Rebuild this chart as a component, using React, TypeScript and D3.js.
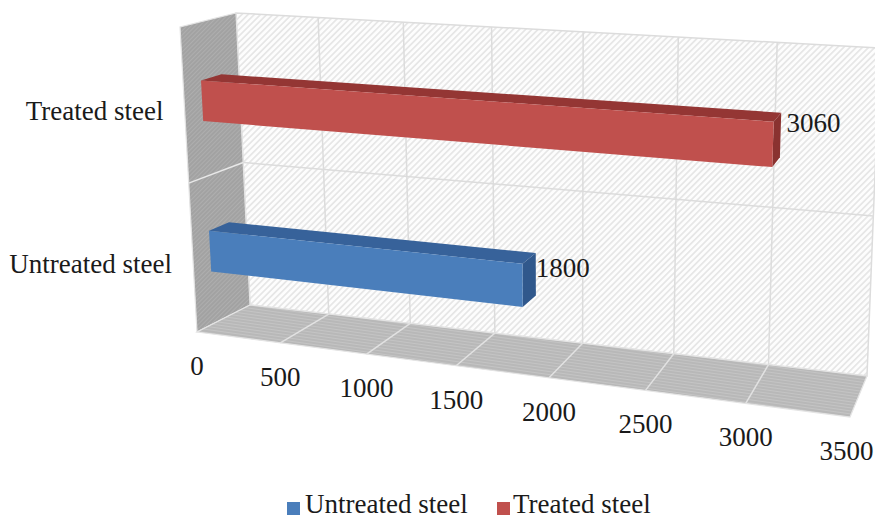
import React from "react";
import * as d3 from "d3";

const categories = ["Untreated steel", "Treated steel"];
const seriesValues = [1800, 3060];
const seriesColors = ["#4a7ebb", "#c0504d"];
const topColors = ["#37629a", "#943634"];
const sideColors = ["#30588c", "#8a3230"];
const valueTicks = [0, 500, 1000, 1500, 2000, 2500, 3000, 3500];
const dataLabelOffsets = [[0, 3], [6, -3]];

type Pt = [number, number];
// Projected corners of the 3D box: [front/back][bottom/top][left/right]
const C = {
  fbl: [197, 332] as Pt, fbr: [850, 417] as Pt, ftl: [180, 27] as Pt, ftr: [866, 70] as Pt,
  bbl: [250, 305] as Pt, bbr: [867, 376] as Pt, btl: [236, 13] as Pt, btr: [880, 48] as Pt,
};
const uScale = d3.scaleLinear().domain([0, 3500]).range([0, 1]);
const K = 1.14;
const persp = (u: number) => u / (u + K * (1 - u));
const lerp = (a: Pt, b: Pt, t: number): Pt => [a[0] + (b[0] - a[0]) * t, a[1] + (b[1] - a[1]) * t];
// value → along x; v: 0 front..1 back; w: 0 floor..1 top
function P(value: number, v: number, w: number): Pt {
  const u = persp(uScale(value));
  const fb = lerp(C.fbl, C.fbr, u), ft = lerp(C.ftl, C.ftr, u);
  const bb = lerp(C.bbl, C.bbr, u), bt = lerp(C.btl, C.btr, u);
  return lerp(lerp(fb, ft, w), lerp(bb, bt, w), v);
}
const poly = d3.line<Pt>().x((d) => d[0]).y((d) => d[1]);
const closed = (pts: Pt[]) => poly(pts)! + "Z";

const band = d3.scaleBand<string>().domain(categories).range([-0.01, 0.99]).paddingInner(0.73).paddingOuter(0.365);
const V0 = 0.32, V1 = 0.69, MID = 0.488;
const FONT = "'Liberation Serif','Times New Roman',serif";
const GRID = "#dcdcdc";
const FS = 27;

export default function App() {
  const maxV = valueTicks[valueTicks.length - 1];
  return (
    <svg width={875} height={519} viewBox="0 0 875 519" style={{ position: "absolute", left: 0, top: 0, background: "#fff" }} fontFamily={FONT} fill="#1a1a1a">
      <defs>
        <pattern id="wallHatch" width="4.4" height="4.4" patternUnits="userSpaceOnUse" patternTransform="rotate(45)">
          <rect width="4.4" height="4.4" fill="#fdfdfd" />
          <rect width="1.7" height="4.4" fill="#e6e6e6" />
        </pattern>
        <pattern id="sideHatch" width="3" height="3" patternUnits="userSpaceOnUse" patternTransform="rotate(45)">
          <rect width="3" height="3" fill="#a2a2a2" />
          <rect width="1" height="3" fill="#aeaeae" />
        </pattern>
        <pattern id="floorHatch" width="3" height="3" patternUnits="userSpaceOnUse" patternTransform="rotate(8)">
          <rect width="3" height="3" fill="#b8b8b8" />
          <rect width="3" height="1" fill="#c4c4c4" />
        </pattern>
      </defs>

      {/* walls */}
      <path d={closed([P(0, 1, 0), P(maxV, 1, 0), P(maxV, 1, 1), P(0, 1, 1)])} fill="url(#wallHatch)" stroke={GRID} strokeWidth={1.5} />
      <path d={closed([P(0, 0, 0), P(0, 1, 0), P(0, 1, 1), P(0, 0, 1)])} fill="url(#sideHatch)" stroke="#e4e4e4" strokeWidth={1.2} />
      <path d={closed([P(0, 0, 0), P(maxV, 0, 0), P(maxV, 1, 0), P(0, 1, 0)])} fill="url(#floorHatch)" stroke="#e4e4e4" strokeWidth={1.2} />

      {/* gridlines */}
      {valueTicks.slice(1, -1).map((t) => (
        <g key={t} fill="none">
          <path d={poly([P(t, 1, 0), P(t, 1, 1)])!} stroke={GRID} strokeWidth={1.5} />
          <path d={poly([P(t, 0, 0), P(t, 1, 0)])!} stroke="#e2e2e2" strokeWidth={1.5} />
        </g>
      ))}
      <path d={poly([P(0, 1, MID), P(maxV, 1, MID)])!} fill="none" stroke={GRID} strokeWidth={1.5} />
      <path d={poly([P(0, 0, MID), P(0, 1, MID)])!} fill="none" stroke="#e8e8e8" strokeWidth={1.5} />

      {/* bars */}
      {categories.map((c, i) => {
        const val = seriesValues[i];
        const w0 = band(c)!, w1 = w0 + band.bandwidth();
        const end = P(val, V1, (w0 + w1) / 2);
        return (
          <g key={c}>
            <path d={closed([P(0, V0, w1), P(val, V0, w1), P(val, V1, w1), P(0, V1, w1)])} fill={topColors[i]} />
            <path d={closed([P(val, V0, w0), P(val, V1, w0), P(val, V1, w1), P(val, V0, w1)])} fill={sideColors[i]} />
            <path d={closed([P(0, V0, w0), P(val, V0, w0), P(val, V0, w1), P(0, V0, w1)])} fill={seriesColors[i]} />
            <text x={end[0] + dataLabelOffsets[i][0]} y={end[1] + dataLabelOffsets[i][1]} fontSize={FS}>{val}</text>
            <text x={P(0, 0, (w0 + w1) / 2)[0] - 21} y={P(0, 0, (w0 + w1) / 2)[1] + 14} fontSize={FS} textAnchor="end">{c}</text>
          </g>
        );
      })}

      {/* value axis labels */}
      {valueTicks.map((t) => {
        const p = P(t, 0, 0);
        return <text key={t} x={Math.min(p[0], 846.5)} y={p[1] + 43} fontSize={FS} textAnchor="middle">{t}</text>;
      })}

      {/* legend */}
      <rect x={287} y={502} width={13} height={13} fill={seriesColors[0]} />
      <text x={305} y={513} fontSize={FS}>{categories[0]}</text>
      <rect x={497} y={502} width={13} height={13} fill={seriesColors[1]} />
      <text x={513} y={513} fontSize={FS}>{categories[1]}</text>
    </svg>
  );
}
